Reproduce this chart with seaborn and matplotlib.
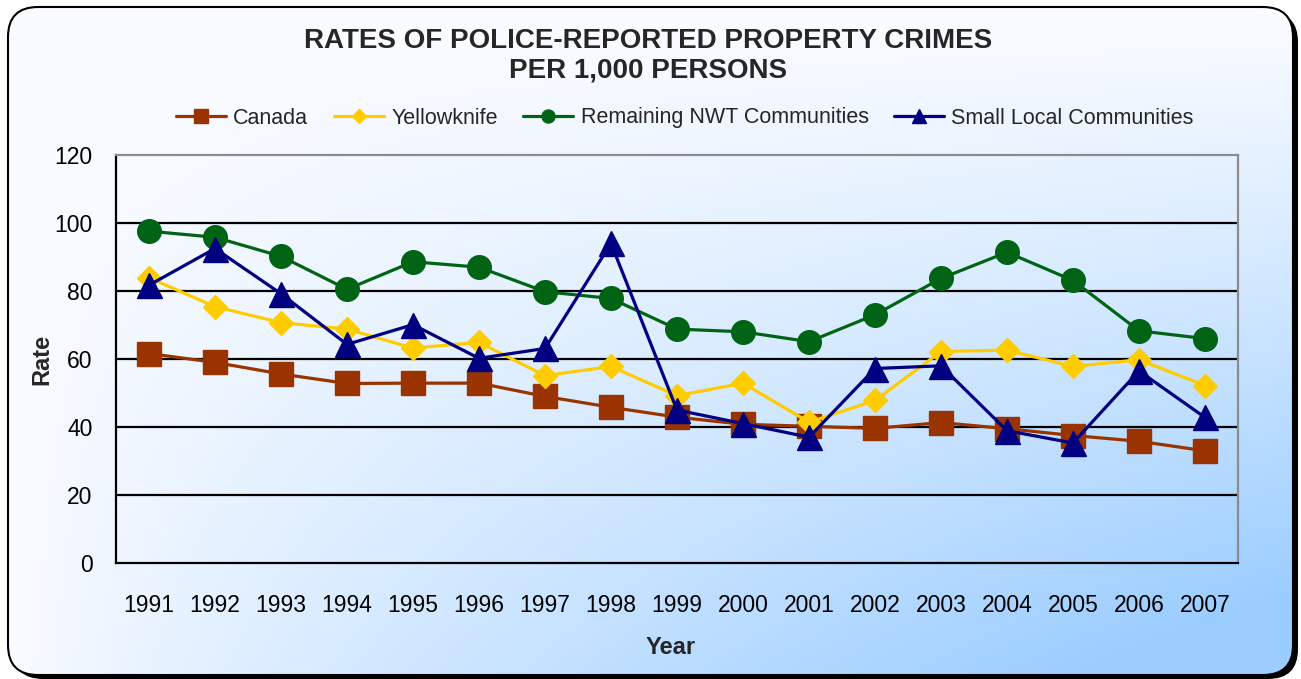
import matplotlib
matplotlib.use("Agg")
import matplotlib.pyplot as plt
from matplotlib.patches import FancyBboxPatch
from matplotlib.ticker import FixedLocator
import numpy as np
import pandas as pd
import seaborn as sns

# ── data ──
years = list(range(1991, 2008))
canada = [61.6, 59.0, 55.6, 52.8, 52.9, 52.9, 49.0, 45.8, 42.9, 40.8,
          40.2, 39.6, 41.3, 39.5, 37.5, 35.8, 33.0]
yellowknife = [83.9, 75.4, 70.7, 68.8, 63.2, 64.9, 55.1, 57.8, 49.2, 52.9,
               41.4, 47.8, 62.2, 62.6, 57.8, 59.8, 52.2]
remaining_nwt = [97.6, 95.8, 90.2, 80.5, 88.6, 87.0, 79.8, 77.8, 68.8, 68.0,
                 65.1, 73.0, 83.7, 91.4, 83.1, 68.3, 66.0]
small_local = [81.7, 92.5, 79.2, 64.3, 70.1, 60.2, 63.1, 94.0, 45.0, 41.0,
               37.0, 57.2, 58.0, 38.9, 35.3, 56.5, 42.8]

series_names = ["Canada", "Yellowknife", "Remaining NWT Communities",
                "Small Local Communities"]
series_values = [canada, yellowknife, remaining_nwt, small_local]

# ── style ──
COLORS = ["#993300", "#FFCC00", "#006414", "#000080"]
MARKERS = ["s", "D", "o", "^"]
MSIZES = [17.5, 12.5, 17, 18]

sns.set_style("white")
plt.rcParams["font.family"] = ["Liberation Sans", "DejaVu Sans"]

W, H = 1301, 679
fig = plt.figure(figsize=(W / 100, H / 100), dpi=100)
fig.patch.set_facecolor("white")

# ── rounded gradient panel with shadow ──
bg = fig.add_axes([0, 0, 1, 1], zorder=0)
bg.set_xlim(0, W); bg.set_ylim(0, H); bg.axis("off")

shadow = FancyBboxPatch((13, 0), 1285, 667,
                        boxstyle="round,pad=0,rounding_size=30",
                        fc="black", ec="none")
bg.add_patch(shadow)

gx = np.linspace(0, 1, W)[None, :]
gy = np.linspace(0, 1, H)[:, None]
t = np.clip(1.15 * gx ** 0.8 * gy ** 1.1, 0, 1)
c0 = np.array([251, 252, 255]) / 255
c1 = np.array([155, 205, 255]) / 255
img = c0[None, None, :] * (1 - t[..., None]) + c1[None, None, :] * t[..., None]

box = FancyBboxPatch((8, 4), 1285, 668,
                     boxstyle="round,pad=0,rounding_size=30",
                     fc="none", ec="black", lw=1.5, zorder=3)
bg.add_patch(box)
im = bg.imshow(img, extent=(8, 1293, 4, 672), origin="upper",
               aspect="auto", zorder=2)
im.set_clip_path(box)

# ── main plot ──
ax = fig.add_axes([116 / W, 1 - 563 / H, (1238 - 116) / W, (563 - 155) / H],
                  zorder=1)
ax.set_facecolor("none")

for name, vals, col, mk, ms in zip(series_names, series_values, COLORS,
                                   MARKERS, MSIZES):
    df = pd.DataFrame({"Year": years, "Rate": vals})
    sns.lineplot(data=df, x="Year", y="Rate", ax=ax, color=col, lw=2.3,
                 marker=mk, markersize=ms, markeredgecolor=col,
                 markeredgewidth=1, label=name, zorder=3)

handles, labels = ax.get_legend_handles_labels()
if ax.get_legend() is not None:
    ax.get_legend().remove()

ax.set_xlim(1990.5, 2007.5)
ax.set_ylim(0, 120)
ax.set_yticks(range(0, 121, 20))
ax.set_xticks(years)
ax.set_xticklabels([str(y) for y in years])
ax.xaxis.set_minor_locator(FixedLocator(np.arange(1990.5, 2008, 1.0)))

ax.tick_params(axis="x", which="major", length=0, labelsize=16.5, pad=22,
               colors="black")
ax.tick_params(axis="x", which="minor", length=7, width=1.3,
               direction="out", color="black")
ax.tick_params(axis="y", length=6, width=1.3, direction="out",
               labelsize=16.5, pad=11, colors="black")

ax.yaxis.grid(True, color="black", lw=1.6)
ax.xaxis.grid(False)
ax.set_axisbelow(True)
gl = ax.yaxis.get_gridlines()
gl[0].set_visible(False)
gl[-1].set_visible(False)

for side in ["left", "bottom"]:
    ax.spines[side].set_color("black")
    ax.spines[side].set_linewidth(1.6)
for side in ["top", "right"]:
    ax.spines[side].set_color("#8c8c8c")
    ax.spines[side].set_linewidth(1.6)

ax.set_xlabel("Year", fontsize=17, fontweight="bold")
ax.set_ylabel("Rate", fontsize=17, fontweight="bold")
ax.xaxis.set_label_coords((671 - 116) / 1122, (563 - 648) / 408)
ax.xaxis.label.set_va("center")
ax.yaxis.set_label_coords((42 - 116) / 1122, 0.5)
ax.yaxis.label.set_va("center")

fig.text(648 / W, 1 - 56 / H,
         "RATES OF POLICE-REPORTED PROPERTY CRIMES\nPER 1,000 PERSONS",
         ha="center", va="center", fontsize=20, fontweight="bold",
         linespacing=1.2, zorder=5)

fig.legend(handles, labels, loc="center", bbox_to_anchor=(685 / W, 1 - 118 / H),
           ncol=4, frameon=False, fontsize=15.5, handlelength=2.3,
           handletextpad=0.35, columnspacing=1.2, markerscale=0.55)

fig.savefig("out.png", dpi=100, facecolor="white")
